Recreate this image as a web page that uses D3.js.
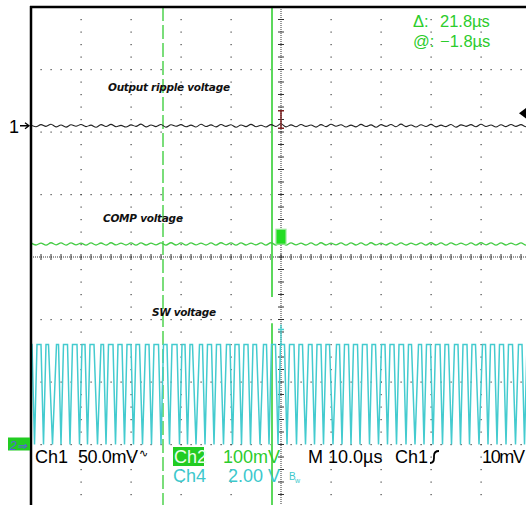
<!DOCTYPE html>
<html><head><meta charset="utf-8">
<script src="https://cdn.jsdelivr.net/npm/d3@7"></script>
<style>html,body{margin:0;padding:0;background:#fff;overflow:hidden}</style>
</head><body><svg id="scope" width="526" height="505"></svg>
<script>
// Acquisition: 10.0 µs/div over 10 divisions, trigger at screen centre
const timeWindow = [-50, 50];             // µs
const divsX = 10, divsY = 8;

// Ch1 – output ripple, AC coupled (mV), one sample per µs from -50 µs
const rippleMv = [0.4,-0.8,0.9,-0.5,1.2,-0.9,0.6,-1.1,0.8,-0.4,1.0,-0.7,0.5,-1.2,0.9,-0.6,1.1,-0.8,0.3,-1.0,
  0.7,-0.5,1.3,-0.9,0.6,-0.7,1.0,-1.1,0.8,-0.4,0.9,-0.8,0.5,-1.0,1.2,-0.6,0.7,-0.9,1.0,-0.5,
  0.8,-1.2,0.6,-0.7,1.1,-0.8,0.4,-1.0,0.9,-0.6,1.6,-0.9,0.7,-0.8,1.0,-0.5,0.6,-1.1,0.9,-0.7,
  1.2,-0.4,0.8,-1.0,0.5,-0.9,1.1,-0.6,0.7,-1.2,0.9,-0.5,1.0,-0.8,1.3,-0.7,0.6,-1.0,0.8,-0.6,
  1.1,-0.9,0.5,-0.7,1.0,-1.1,0.7,-0.5,0.9,-0.8,1.2,-0.6,0.6,-1.0,0.8,-0.7,1.0,-0.5,0.9,-0.8,0.6];

// Ch2 – COMP voltage (mV), one sample per µs from -50 µs
const compMv = [322.6,319.2,322.3,319.0,322.8,319.4,322.5,319.1,322.7,319.3,322.2,319.1,322.6,319.2,322.4,319.0,322.8,319.3,322.3,319.2,
  322.6,319.1,322.7,319.2,322.2,319.4,322.6,319.1,322.8,319.2,322.5,319.0,322.7,319.3,322.3,319.2,322.6,319.1,322.8,319.4,
  322.5,319.0,322.7,319.2,322.3,319.3,322.6,319.1,322.8,319.2,322.5,319.1,322.7,319.3,322.2,319.2,322.6,319.0,322.8,319.2,
  322.3,319.4,322.6,319.1,322.7,319.2,322.5,319.0,322.8,319.3,322.3,319.2,322.7,319.1,322.6,319.2,322.2,319.4,322.6,319.1,
  322.8,319.2,322.5,319.0,322.7,319.3,322.3,319.2,322.6,319.1,322.8,319.4,322.5,319.0,322.7,319.2,322.3,319.3,322.6,319.1,322.7];

// Ch4 – SW node: times (µs) at which each low-going pulse bottoms out
const swLowTimes = [-49.3,-47.5,-45.7,-44.0,-42.2,-40.3,-38.7,-36.7,-35.0,-33.1,-31.3,-29.5,-27.7,-25.9,-24.0,-22.3,-20.3,-18.7,-17.0,
  -15.2,-13.4,-11.5,-9.7,-7.9,-6.1,-4.2,-2.4,-0.6,1.2,3.1,4.9,6.7,8.5,10.4,12.2,14.0,15.8,17.7,19.5,21.3,23.1,25.0,26.8,
  28.6,30.4,32.3,34.1,35.9,37.7,39.6,41.4,43.2,45.0,46.9,48.7];
// half-width of each pulse's V (µs); aliasing makes some look wider
const swHalfWidths = [0.5,0.5,0.8,0.5,0.5,0.5,0.5,0.7,0.5,0.5,0.5,0.5,0.6,0.5,0.5,0.5,0.5,0.5,0.7,
  0.5,0.5,0.6,0.5,0.5,0.5,0.7,0.5,0.5,0.5,0.5,0.6,0.5,0.5,0.7,0.5,0.5,0.5,0.5,0.6,0.5,0.5,0.5,0.7,
  0.5,0.5,0.5,0.6,0.5,0.5,0.7,0.5,0.5,0.5,0.6,0.5];
const swLevelsV = [0.0, 3.2];            // low, high

// Cursors (µs) and trigger
const cursorAt = -1.8, cursorDelta = 21.8;
const triggerLevelMv = 10;

// Channel settings: volts per division and ground offset in divisions
const ch1 = {perDiv: 50, offsetDiv: 2.1};
const ch2 = {perDiv: 100, offsetDiv: -3.0};
const ch4 = {perDiv: 2, offsetDiv: -3.0};

const svg = d3.select('#scope');
const L = 31, T = 7, W = 500, H = 500;
const x = d3.scaleLinear().domain(timeWindow).range([L, L + W]);
const yDiv = d3.scaleLinear().domain([-divsY / 2, divsY / 2]).range([T + H, T]);
const chScale = ch => v => yDiv(v / ch.perDiv + ch.offsetDiv);
const y1 = chScale(ch1), y2 = chScale(ch2), y4 = chScale(ch4);

svg.append('rect').attr('width', 526).attr('height', 505).attr('fill', '#fff');
svg.append('clipPath').attr('id', 'plot').append('rect')
  .attr('x', L).attr('y', T).attr('width', W).attr('height', H);

// Graticule
const grid = svg.append('g').attr('fill', '#444');
const xDivs = d3.range(-divsX / 2, divsX / 2 + 1);
const yDivs = d3.range(-divsY / 2, divsY / 2 + 1);
const xDivScale = d3.scaleLinear().domain([-divsX / 2, divsX / 2]).range([L, L + W]);
xDivs.filter(d => d !== 0).forEach(d => {
  d3.range(-divsY / 2, divsY / 2 + 0.001, 0.2).forEach(s => {
    grid.append('rect').attr('x', xDivScale(d) - 0.5).attr('y', yDiv(s) - 0.5).attr('width', 1.2).attr('height', 1.2);
  });
});
yDivs.filter(d => d !== 0).forEach(d => {
  d3.range(-divsX / 2, divsX / 2 + 0.001, 0.2).forEach(s => {
    grid.append('rect').attr('x', xDivScale(s) - 0.5).attr('y', yDiv(d) - 0.5).attr('width', 1.2).attr('height', 1.2);
  });
});
// centre axes with minor ticks
const axes = svg.append('g').attr('stroke', '#333').attr('stroke-width', 1);
axes.append('line').attr('x1', L).attr('x2', L + W).attr('y1', yDiv(0)).attr('y2', yDiv(0))
  .attr('stroke-dasharray', '1,1');
axes.append('line').attr('y1', T).attr('y2', T + H).attr('x1', xDivScale(0)).attr('x2', xDivScale(0))
  .attr('stroke-dasharray', '1,1');
d3.range(-divsX / 2, divsX / 2 + 0.001, 0.2).forEach(s => {
  axes.append('line').attr('x1', xDivScale(s)).attr('x2', xDivScale(s))
    .attr('y1', yDiv(0) - 3).attr('y2', yDiv(0) + 3);
});
d3.range(-divsY / 2, divsY / 2 + 0.001, 0.2).forEach(s => {
  axes.append('line').attr('y1', yDiv(s)).attr('y2', yDiv(s))
    .attr('x1', xDivScale(0) - 3).attr('x2', xDivScale(0) + 3);
});

// Cursors
const cur = svg.append('g').attr('clip-path', 'url(#plot)');
cur.append('line').attr('x1', x(cursorAt - cursorDelta)).attr('x2', x(cursorAt - cursorDelta))
  .attr('y1', T).attr('y2', T + H).attr('stroke', '#4fd24f').attr('stroke-width', 1.5)
  .attr('stroke-dasharray', '14,4');
[[T, yDiv(-0.64)], [yDiv(-1.06), T + H]].forEach(([a, b]) => {
  cur.append('line').attr('x1', x(cursorAt)).attr('x2', x(cursorAt)).attr('y1', a).attr('y2', b)
    .attr('stroke', '#5cd85c').attr('stroke-width', 2);
});

// Traces
const traces = svg.append('g').attr('clip-path', 'url(#plot)');
const tAt = i => timeWindow[0] + i;
traces.append('path')
  .attr('d', d3.line().curve(d3.curveCatmullRom).x((d, i) => x(tAt(i))).y(d => y1(d))(rippleMv))
  .attr('fill', 'none').attr('stroke', '#222').attr('stroke-width', 1.1);
traces.append('path')
  .attr('d', d3.line().curve(d3.curveCatmullRom).x((d, i) => x(tAt(i))).y(d => y2(d))(compMv))
  .attr('fill', 'none').attr('stroke', '#44cc44').attr('stroke-width', 1.3);

const swPts = [[timeWindow[0], swLevelsV[1]]];
swLowTimes.forEach((t, i) => {
  const hw = swHalfWidths[i] ?? 0.5;
  swPts.push([t - hw, swLevelsV[1]], [t, swLevelsV[0]], [t + hw, swLevelsV[1]]);
});
swPts.push([timeWindow[1], swLevelsV[1]]);
traces.append('path')
  .attr('d', d3.line().x(d => x(d[0])).y(d => y4(d[1]))(swPts))
  .attr('fill', 'none').attr('stroke', '#44cbcf').attr('stroke-width', 1.5);

// Markers on centre axis
const mk = svg.append('g');
const xc = xDivScale(0);
mk.append('path').attr('d', `M${xc},${y1(12)}V${y1(-2)}M${xc - 3},${y1(12)}H${xc + 3}M${xc - 3},${y1(-2)}H${xc + 3}`)
  .attr('stroke', '#7a2020').attr('stroke-width', 1.5).attr('fill', 'none');
mk.append('rect').attr('x', xc - 5).attr('y', y2(322) - 14).attr('width', 10).attr('height', 15)
  .attr('fill', '#22dd22').attr('stroke', '#9be89b').attr('stroke-width', 1.2);
mk.append('path').attr('d', `M${xc},${y4(3.2) - 20}V${y4(3.2)}M${xc - 3},${y4(3.2) - 15}H${xc + 3}`)
  .attr('stroke', '#44cccc').attr('stroke-width', 1.3).attr('fill', 'none');

// Trigger level arrow on right edge
svg.append('path').attr('d', `M519,${y1(triggerLevelMv)}l8,-6v12z`).attr('fill', '#000');

// Frame
svg.append('line').attr('x1', L).attr('x2', L).attr('y1', T - 1).attr('y2', 505)
  .attr('stroke', '#000').attr('stroke-width', 2.5);
svg.append('line').attr('x1', L - 1).attr('x2', 526).attr('y1', T).attr('y2', T)
  .attr('stroke', '#000').attr('stroke-width', 2.5);

// Ground markers
svg.append('text').attr('x', 9).attr('y', y1(0) + 7).text('1')
  .attr('font-family', 'Liberation Sans, Arial, sans-serif').attr('font-size', 18).attr('fill', '#000');
svg.append('path').attr('d', `M20,${y1(0)}H29M25,${y1(0) - 3}L29,${y1(0)}L25,${y1(0) + 3}`)
  .attr('stroke', '#000').attr('stroke-width', 1.3).attr('fill', 'none');
svg.append('rect').attr('x', 8).attr('y', y2(0) - 7).attr('width', 22).attr('height', 13).attr('fill', '#22cc22');
svg.append('text').attr('x', 10).attr('y', y2(0) + 5).text('2⇒')
  .attr('font-family', 'Liberation Sans, Arial, sans-serif').attr('font-size', 12).attr('font-style', 'italic')
  .attr('fill', '#5a5ae0');

// Trace labels
const lab = svg.append('g').attr('font-family', 'DejaVu Sans, sans-serif').attr('font-size', 10.5)
  .attr('font-weight', 'bold').attr('font-style', 'italic').attr('fill', '#111');
lab.append('text').attr('x', 108).attr('y', 91).attr('textLength', 122).text('Output ripple voltage');
lab.append('text').attr('x', 103).attr('y', 222).attr('textLength', 80).text('COMP voltage');
lab.append('text').attr('x', 152).attr('y', 316).attr('textLength', 64).text('SW voltage');

// Readouts
const ro = svg.append('g').attr('font-family', 'Liberation Sans, Arial, sans-serif').attr('font-size', 18);
const green = '#2ccc2c', cyan = '#3cc8cc';
const cursorText = ro.append('g').attr('font-size', 16.5).attr('fill', green);
cursorText.append('text').attr('x', 413).attr('y', 27).text('Δ:');
cursorText.append('text').attr('x', 440).attr('y', 27).text(`${cursorDelta.toFixed(1)}µs`);
cursorText.append('text').attr('x', 413).attr('y', 47).text('@:');
cursorText.append('text').attr('x', 440).attr('y', 47).text(`−${Math.abs(cursorAt).toFixed(1)}µs`);

ro.append('text').attr('x', 35).attr('y', 463).attr('fill', '#000').text('Ch1');
ro.append('text').attr('x', 78).attr('y', 463).attr('fill', '#000').attr('textLength', 60).text(`${ch1.perDiv.toFixed(1)}mV`);
ro.append('text').attr('x', 139).attr('y', 457).attr('fill', '#000').attr('font-size', 11).text('∿');
ro.append('rect').attr('x', 173).attr('y', 447).attr('width', 31).attr('height', 19).attr('fill', '#22cc22');
ro.append('text').attr('x', 174).attr('y', 463).attr('fill', '#eaffea').text('Ch2');
ro.append('text').attr('x', 223).attr('y', 463).attr('fill', green).text(`${ch2.perDiv}mV`);
ro.append('text').attr('x', 308).attr('y', 463).attr('fill', '#000').text('M 10.0µs');
ro.append('text').attr('x', 395).attr('y', 463).attr('fill', '#000').text('Ch1');
ro.append('path').attr('d', 'M430,463q4,0 4,-5v-2q0,-5 5,-5').attr('stroke', '#000').attr('stroke-width', 1.8).attr('fill', 'none');
ro.append('text').attr('x', 525).attr('y', 463).attr('text-anchor', 'end').attr('fill', '#000').attr('textLength', 43).text(`${triggerLevelMv}mV`);
ro.append('text').attr('x', 173).attr('y', 482).attr('fill', cyan).text('Ch4');
ro.append('text').attr('x', 228).attr('y', 482).attr('fill', cyan).text(`${ch4.perDiv.toFixed(2)} V`);
ro.append('text').attr('x', 289).attr('y', 480).attr('fill', cyan).attr('font-size', 10).text('B');
ro.append('text').attr('x', 295).attr('y', 483).attr('fill', cyan).attr('font-size', 7).text('w');
</script>
</body></html>
